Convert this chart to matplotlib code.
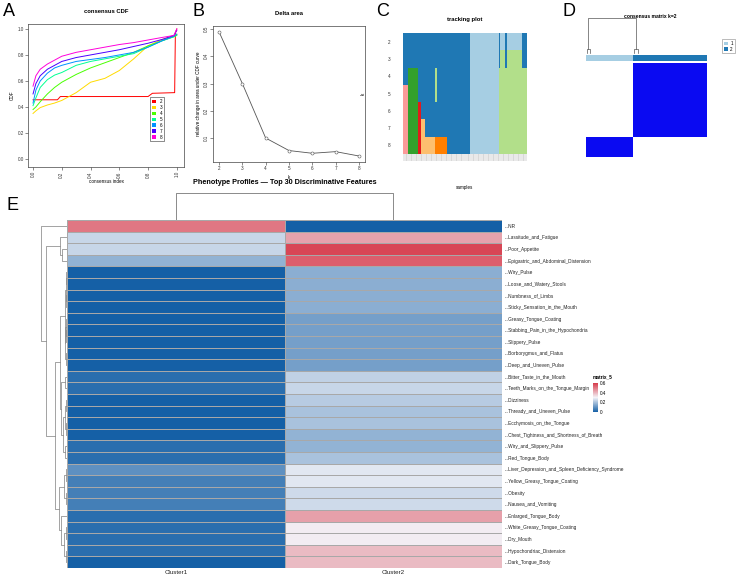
import matplotlib
matplotlib.use("Agg")
import matplotlib.pyplot as plt
import numpy as np
from matplotlib.colors import LinearSegmentedColormap, ListedColormap
from matplotlib.patches import Patch

plt.rcParams['font.family'] = ['Liberation Sans', 'DejaVu Sans']

W, H = 738, 575

# ---------------- data ----------------
# A: consensus CDF
cdf_k = [2, 3, 4, 5, 6, 7, 8]
cdf_colors = ["#FF0000", "#FFDB00", "#49FF00", "#00FF92", "#0092FF", "#4900FF", "#FF00DB"]
cdf_x = [0, 0.02, 0.05, 0.1, 0.15, 0.2, 0.3, 0.4, 0.5, 0.6, 0.7, 0.8, 0.9, 0.98, 1.0]
cdf_k2_x = [0, 0.17, 0.19, 0.80, 0.83, 0.985, 0.99, 1.0]
cdf_k2_y = [0.455, 0.455, 0.48, 0.48, 0.505, 0.51, 0.97, 1.0]
cdf_k3 = [0.35, 0.37, 0.395, 0.415, 0.43, 0.45, 0.51, 0.59, 0.62, 0.68, 0.77, 0.87, 0.92, 0.95, 0.96]
cdf_k4 = [0.38, 0.40, 0.44, 0.50, 0.55, 0.59, 0.65, 0.70, 0.74, 0.78, 0.82, 0.87, 0.91, 0.94, 0.95]
cdf_k5 = [0.41, 0.47, 0.55, 0.61, 0.645, 0.665, 0.72, 0.75, 0.77, 0.79, 0.81, 0.86, 0.91, 0.94, 0.955]
cdf_k6 = [0.43, 0.53, 0.60, 0.66, 0.70, 0.72, 0.75, 0.765, 0.78, 0.80, 0.82, 0.86, 0.91, 0.945, 0.96]
cdf_k7 = [0.50, 0.58, 0.64, 0.69, 0.72, 0.75, 0.78, 0.80, 0.82, 0.84, 0.865, 0.89, 0.92, 0.95, 0.99]
cdf_k8 = [0.56, 0.64, 0.69, 0.73, 0.76, 0.79, 0.82, 0.84, 0.86, 0.88, 0.895, 0.915, 0.935, 0.95, 1.0]

# B: delta area
delta_k = [2, 3, 4, 5, 6, 7, 8]
delta_val = [0.49, 0.30, 0.10, 0.054, 0.044, 0.05, 0.034]

# C: tracking plot, run lengths (cluster id, n samples) per k
cc_palette = ["#A6CEE3", "#1F78B4", "#B2DF8A", "#33A02C", "#FB9A99", "#E31A1C", "#FDBF6F", "#FF7F00"]
track_runs = {
    2: [(2, 40), (1, 17), (2, 1), (1, 3), (2, 1), (1, 9), (2, 3)],
    3: [(2, 40), (1, 17), (2, 1), (3, 3), (2, 1), (3, 9), (2, 3)],
    4: [(2, 3), (4, 6), (2, 10), (3, 1), (2, 20), (1, 17), (3, 17)],
    5: [(5, 3), (4, 6), (2, 10), (3, 1), (2, 20), (1, 17), (3, 17)],
    6: [(5, 3), (4, 6), (6, 2), (2, 29), (1, 17), (3, 17)],
    7: [(5, 3), (4, 6), (6, 2), (7, 2), (2, 27), (1, 17), (3, 17)],
    8: [(5, 3), (4, 6), (6, 2), (7, 8), (8, 7), (2, 14), (1, 17), (3, 17)],
}

# D: consensus matrix k=2
d_cluster_sizes = [29, 45]

# E: phenotype profiles
features = ["NR", "Lassitude_and_Fatigue", "Poor_Appetite", "Epigastric_and_Abdominal_Distension",
            "Wiry_Pulse", "Loose_and_Watery_Stools", "Numbness_of_Limbs",
            "Sticky_Sensation_in_the_Mouth", "Greasy_Tongue_Coating",
            "Stabbing_Pain_in_the_Hypochondria", "Slippery_Pulse", "Borborygmus_and_Flatus",
            "Deep_and_Uneven_Pulse", "Bitter_Taste_in_the_Mouth",
            "Teeth_Marks_on_the_Tongue_Margin", "Dizziness", "Thready_and_Uneven_Pulse",
            "Ecchymosis_on_the_Tongue", "Chest_Tightness_and_Shortness_of_Breath",
            "Wiry_and_Slippery_Pulse", "Red_Tongue_Body",
            "Liver_Depression_and_Spleen_Deficiency_Syndrome", "Yellow_Greasy_Tongue_Coating",
            "Obesity", "Nausea_and_Vomiting", "Enlarged_Tongue_Body",
            "White_Greasy_Tongue_Coating", "Dry_Mouth", "Hypochondriac_Distension",
            "Dark_Tongue_Body"]
cluster1 = [0.50, 0.24, 0.24, 0.17, 0, 0, 0, 0, 0, 0, 0, 0, 0, 0.03, 0.03,
            0, 0, 0, 0, 0.03, 0.03, 0.10, 0.065, 0.065, 0.065, 0.03, 0.03, 0.03, 0.03, 0.0]
cluster2 = [0.0, 0.43, 0.58, 0.54, 0.16, 0.16, 0.16, 0.16, 0.13, 0.13, 0.13, 0.13, 0.13,
            0.23, 0.24, 0.22, 0.20, 0.20, 0.17, 0.17, 0.20, 0.275, 0.275, 0.25, 0.25,
            0.435, 0.31, 0.31, 0.39, 0.39]
col_labels = ["Cluster1", "Cluster2"]

# row dendrogram: (height, left, right), leaves are row indices
t_H = (0.25, (0.15, (0.1, 4, 5), (0.1, 6, 7)), (0.2, (0.12, 8, (0.08, 9, 10)), (0.1, 11, 12)))
t_I = (0.6, (0.25, 13, 14), (0.4, (0.2, (0.1, 15, 16), (0.1, 17, 18)), (0.2, 19, 20)))
t_J = (0.35, (0.15, 21, 22), (0.1, 23, 24))
t_K = (0.6, 25, (0.3, (0.1, 26, 27), (0.15, 28, 29)))
row_tree = (2.6, 0, (2.13, (0.7, 1, (0.47, 2, 3)),
                     (1.2, (0.7, t_H, t_I), (0.8, t_J, t_K))))


# ---------------- helpers ----------------
fig = plt.figure(figsize=(W / 100, H / 100), dpi=100)


def box(x0, y0, x1, y1):
    return fig.add_axes([x0 / W, 1 - y1 / H, (x1 - x0) / W, (y1 - y0) / H])


def ftext(x, y, s, **kw):
    fig.text(x / W, 1 - y / H, s, **kw)


def r_axes(ax):
    for s in ax.spines.values():
        s.set_linewidth(0.5)
        s.set_color("#444444")
    ax.tick_params(labelsize=3.3, length=2, width=0.4, pad=1, colors="#333333")


for lab, x, y in [("A", 3, 3), ("B", 193, 3), ("C", 376, 3), ("D", 563, 3), ("E", 6, 197)]:
    ftext(x, y, lab, fontsize=13, va="top", ha="left")

# ---------------- A ----------------
axA = box(28, 24, 184, 167)
r_axes(axA)
axA.plot(cdf_k2_x, cdf_k2_y, color=cdf_colors[0], lw=0.7)
for ys, c in zip([cdf_k3, cdf_k4, cdf_k5, cdf_k6, cdf_k7, cdf_k8], cdf_colors[1:]):
    axA.plot(cdf_x, ys, color=c, lw=0.7)
axA.set_xlim(-0.035, 1.05)
axA.set_ylim(-0.062, 1.038)
axA.set_xticks(np.arange(0, 1.01, 0.2))
axA.set_yticks(np.arange(0, 1.01, 0.2))
axA.set_xticklabels([f"{v:.1f}" for v in np.arange(0, 1.01, 0.2)], rotation=90)
axA.set_yticklabels([f"{v:.1f}" for v in np.arange(0, 1.01, 0.2)])
axA.set_title("consensus CDF", fontsize=4.2, fontweight="bold", pad=8)
axA.set_ylabel("CDF", fontsize=3.3, labelpad=2)
axA.set_xlabel("consensus index", fontsize=3.3, labelpad=1)
legA = axA.legend([Patch(fc=c, ec="none") for c in cdf_colors], [str(k) for k in cdf_k],
                  loc="upper left", bbox_to_anchor=((148 - 28) / 156, 1 - (95 - 24) / 143),
                  fontsize=3.3, handlelength=0.9, handleheight=0.8, labelspacing=0.2,
                  handletextpad=0.8, borderpad=0.4, fancybox=False, framealpha=1)
legA.get_frame().set_linewidth(0.4)
legA.get_frame().set_edgecolor("#333333")

# ---------------- B ----------------
axB = box(213, 26, 365, 162)
r_axes(axB)
axB.plot(delta_k, delta_val, color="#555555", lw=0.6, marker="o", ms=2.2,
         mfc="white", mec="#555555", mew=0.4)
axB.set_xlim(1.743, 8.257)
axB.set_ylim(0.012, 0.511)
axB.set_xticks(delta_k)
axB.set_yticks([0.1, 0.2, 0.3, 0.4, 0.5])
for t in axB.get_yticklabels():
    t.set_rotation(90)
    t.set_va("center")
axB.set_title("Delta area", fontsize=4.2, fontweight="bold", pad=8)
axB.set_ylabel("relative change in area under CDF curve", fontsize=3.3, labelpad=2)
axB.set_xlabel("k", fontsize=3.3, labelpad=3)

# ---------------- C ----------------
axC = box(403, 33, 527, 154)
ks = sorted(track_runs)
track = np.array([np.concatenate([[c] * n for c, n in track_runs[k]]) for k in ks])
n_samp = track.shape[1]
axC.imshow(track, cmap=ListedColormap(cc_palette), vmin=0.5, vmax=8.5,
           aspect="auto", interpolation="nearest", extent=(0, n_samp, len(ks), 0))
for s in axC.spines.values():
    s.set_visible(False)
axC.set_yticks(np.arange(len(ks)) + 0.5)
axC.set_yticklabels([str(k) for k in ks])
axC.set_xticks(np.arange(n_samp) + 0.5)
axC.set_xticklabels([])
axC.tick_params(axis="y", labelsize=3.3, length=0, pad=9, colors="#333333")
axC.tick_params(axis="x", length=5, width=0.3, colors="#999999")
axC.set_title("tracking plot", fontsize=4.2, fontweight="bold", pad=9)
axC.set_xlabel("samples", fontsize=3.3, labelpad=14)
axC.set_ylabel("k", fontsize=3.3, labelpad=16)

# ---------------- D ----------------
labels_d = np.concatenate([[i + 1] * n for i, n in enumerate(d_cluster_sizes)])
n_d = len(labels_d)
row_order = np.concatenate([np.where(labels_d == 2)[0], np.where(labels_d == 1)[0]])
cons = (labels_d[row_order][:, None] == labels_d[None, :]).astype(float)
axD = box(586, 63, 707, 157)
axD.imshow(cons, cmap=LinearSegmentedColormap.from_list("wb", ["white", "#0A0AF2"]),
           vmin=0, vmax=1, aspect="auto", interpolation="nearest",
           extent=(0, n_d, n_d, 0))
axD.set_xlim(0, n_d)
axD.set_ylim(n_d * 94 / 121, 0)
axD.axis("off")

axDa = box(586, 55, 707, 61)
axDa.imshow(labels_d[None, :], cmap=ListedColormap(cc_palette[:2]), vmin=0.5, vmax=2.5,
            aspect="auto", interpolation="nearest", extent=(0, n_d, 1, 0))
axDa.axis("off")

axDd = box(586, 15, 707, 54)
axDd.set_xlim(0, n_d)
axDd.set_ylim(0, 1.08)
axDd.axis("off")
starts = np.concatenate([[0], np.cumsum(d_cluster_sizes)[:-1]])
tops = [s + 1.5 for s in starts]
dcol = "#555555"
axDd.plot([tops[0], tops[0], tops[1], tops[1]], [0.15, 1.0, 1.0, 0.15], color=dcol, lw=0.5)
for s in starts:
    axDd.plot([s + 0.5, s + 0.5, s + 2.5, s + 2.5], [0.03, 0.15, 0.15, 0.03], color=dcol, lw=0.5)
ftext(650, 16, "consensus matrix k=2", fontsize=3.6, fontweight="bold", ha="center", va="center")
legD = fig.legend([Patch(fc=c, ec="none") for c in cc_palette[:2]], ["1", "2"],
                  loc="upper left", bbox_to_anchor=(720 / W, 1 - 37 / H), fontsize=3.3,
                  handlelength=0.8, handleheight=0.8, labelspacing=0.2, handletextpad=0.6,
                  borderpad=0.35, fancybox=False, framealpha=1)
legD.get_frame().set_linewidth(0.4)
legD.get_frame().set_edgecolor("#888888")

# ---------------- E ----------------
vals = np.column_stack([cluster1, cluster2])
n_rows = len(features)
cmapE = LinearSegmentedColormap.from_list(
    "e", [(0, "#1560A6"), (0.5, "#F3F3F8"), (1, "#D63A4A")])
axE = box(67, 220, 502, 568)
axE.pcolormesh(vals, cmap=cmapE, vmin=0, vmax=0.6, edgecolors="#A8A8A8", linewidth=0.5)
axE.set_xlim(0, 2)
axE.set_ylim(n_rows, 0)
for s in axE.spines.values():
    s.set_visible(False)
axE.set_xticks([0.5, 1.5])
axE.set_xticklabels(col_labels, fontsize=4.5)
axE.yaxis.tick_right()
axE.set_yticks(np.arange(n_rows) + 0.5)
axE.set_yticklabels(["..." + f for f in features], fontsize=3.4)
axE.tick_params(length=0, pad=1.5, colors="#222222")
axE.set_title("Phenotype Profiles \u2014 Top 30 Discriminative Features",
              fontsize=5.2, fontweight="bold", pad=26)

# column dendrogram
axEc = box(67, 192, 502, 220)
axEc.set_xlim(0, 2)
axEc.set_ylim(0, 1.05)
axEc.axis("off")
axEc.plot([0.5, 0.5, 1.5, 1.5], [0, 1, 1, 0], color="#777777", lw=0.6)

# row dendrogram
axEr = box(38, 220, 67, 568)
axEr.set_ylim(n_rows, 0)
axEr.set_xlim(2.9, 0)
axEr.axis("off")


def draw_tree(node):
    if not isinstance(node, tuple):
        return node + 0.5, 0.0
    h, a, b = node
    ya, ha = draw_tree(a)
    yb, hb = draw_tree(b)
    axEr.plot([ha, h, h, hb], [ya, ya, yb, yb], color="#8A8A8A", lw=0.55)
    return (ya + yb) / 2, h


draw_tree(row_tree)

# colour legend
axCb = box(593, 383, 598, 412)
sm = plt.cm.ScalarMappable(cmap=cmapE, norm=plt.Normalize(0, 0.6))
cb = fig.colorbar(sm, cax=axCb, ticks=[0, 0.2, 0.4, 0.6])
cb.ax.set_yticklabels(["0", "0.2", "0.4", "0.6"])
cb.outline.set_visible(False)
cb.ax.tick_params(labelsize=3.3, length=0, pad=1)
ftext(593, 377, "matrix_5", fontsize=3.4, fontweight="bold", ha="left", va="center")

fig.savefig("out.png", dpi=100)
